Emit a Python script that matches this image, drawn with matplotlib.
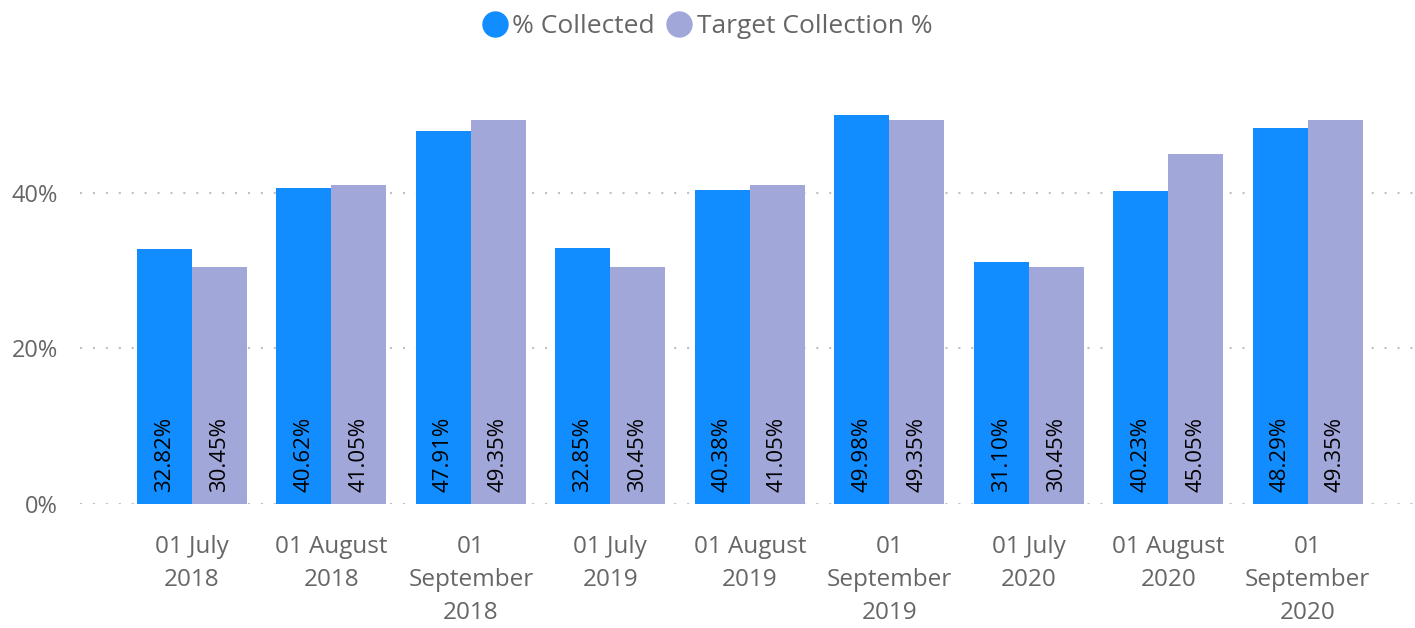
import matplotlib.pyplot as plt
import numpy as np

categories = ["01 July\n2018", "01 August\n2018", "01\nSeptember\n2018",
              "01 July\n2019", "01 August\n2019", "01\nSeptember\n2019",
              "01 July\n2020", "01 August\n2020", "01\nSeptember\n2020"]
collected = [32.82, 40.62, 47.91, 32.85, 40.38, 49.98, 31.10, 40.23, 48.29]
target = [30.45, 41.05, 49.35, 30.45, 41.05, 49.35, 30.45, 45.05, 49.35]
yticks = [0, 20, 40]

plt.rcParams['font.family'] = ['Open Sans', 'DejaVu Sans']

blue = '#118DFF'
lav = '#A1A7D9'
grey = '#666666'

fig = plt.figure(figsize=(14.15, 6.28), dpi=100)
ax = fig.add_axes([80 / 1415, 124 / 628, 1335 / 1415, 434 / 628])

x = np.arange(len(categories))
w = 0.394
ax.bar(x - w / 2, collected, w, color=blue, label='% Collected')
ax.bar(x + w / 2, target, w, color=lav, label='Target Collection %')

for i in range(len(categories)):
    ax.text(x[i] - w / 2, 1.6, f"{collected[i]:.2f}%", rotation=90, ha='center',
            va='bottom', fontsize=16, color='black')
    ax.text(x[i] + w / 2, 1.6, f"{target[i]:.2f}%", rotation=90, ha='center',
            va='bottom', fontsize=16, color='black')

ax.set_xlim(-0.803, 8.77)
ax.set_ylim(0, 55.8)
ax.set_yticks(yticks)
ax.set_yticklabels([f"{t}%" for t in yticks])
ax.set_xticks(x)
ax.set_xticklabels(categories, linespacing=1.5)
ax.tick_params(axis='both', length=0, colors=grey)
ax.tick_params(axis='x', pad=22, labelsize=17.5)
ax.tick_params(axis='y', pad=16, labelsize=17)
for t in ax.get_yticklabels():
    t.set_color(grey)
for t in ax.get_xticklabels():
    t.set_color(grey)
ax.grid(axis='y', color='#C0C0C0', linestyle=(0, (1, 5.2)), linewidth=1.5)
ax.set_axisbelow(True)
for s in ax.spines.values():
    s.set_visible(False)

fig.legend(loc='upper center', bbox_to_anchor=(0.5, 1.015), ncol=2, frameon=False,
           fontsize=19, handlelength=0.9, handletextpad=0.2, columnspacing=0.5,
           labelcolor=grey,
           handles=[plt.Line2D([], [], marker='o', color=blue, linestyle='', markersize=18),
                    plt.Line2D([], [], marker='o', color=lav, linestyle='', markersize=18)],
           labels=['% Collected', 'Target Collection %'])

fig.savefig('out.png', dpi=100)
